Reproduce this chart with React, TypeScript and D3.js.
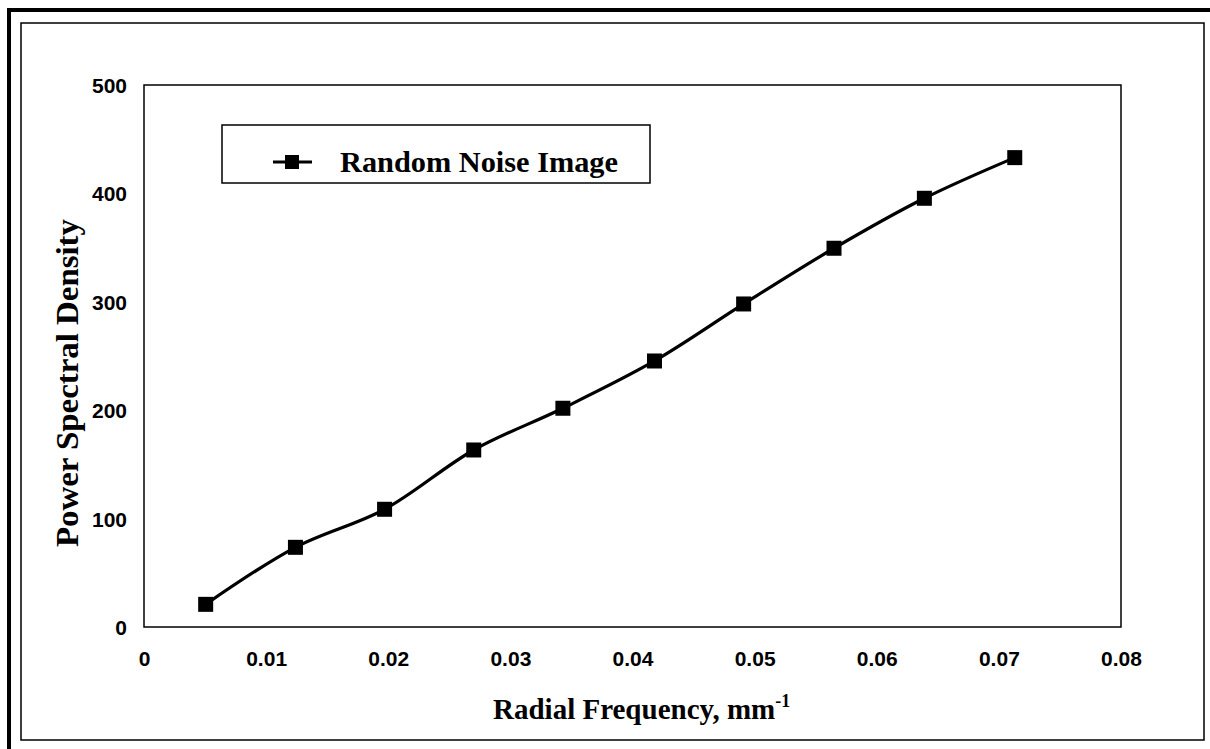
import React, { useEffect, useRef } from "react";
import * as d3 from "d3";

// Radial frequency (mm^-1) and power spectral density of the random noise image
const frequency = [0.00505, 0.0124, 0.0197, 0.027, 0.0343, 0.0418, 0.0491, 0.0565, 0.0639, 0.0713];
const psd = [20.9, 73.5, 108.6, 163.3, 201.8, 245.4, 298, 349.4, 395.5, 433];
const xTicks = [0, 0.01, 0.02, 0.03, 0.04, 0.05, 0.06, 0.07, 0.08];
const yTicks = [0, 100, 200, 300, 400, 500];
const seriesName = "Random Noise Image";

const W = 1210;
const H = 749;
const plot = { left: 144, top: 85, right: 1121, bottom: 627 };
const sans = "'Liberation Sans', Arial, Helvetica, sans-serif";
const serif = "'Liberation Serif', 'Times New Roman', Times, serif";

export default function App() {
  const ref = useRef<SVGSVGElement | null>(null);

  useEffect(() => {
    const svg = d3.select(ref.current);
    svg.selectAll("*").remove();

    const x = d3.scaleLinear().domain([0, 0.08]).range([plot.left, plot.right]);
    const y = d3.scaleLinear().domain([0, 500]).range([plot.bottom, plot.top]);

    svg.append("rect").attr("width", W).attr("height", H).attr("fill", "#fff");

    // outer heavy frame and inner thin frame
    svg.append("rect")
      .attr("x", 9).attr("y", 10).attr("width", W + 20).attr("height", H + 20)
      .attr("fill", "none").attr("stroke", "#000").attr("stroke-width", 4);
    svg.append("rect")
      .attr("x", 21).attr("y", 23).attr("width", 1204 - 21).attr("height", 740 - 23)
      .attr("fill", "none").attr("stroke", "#000").attr("stroke-width", 1.5);

    // plot area border
    svg.append("rect")
      .attr("x", plot.left).attr("y", plot.top)
      .attr("width", plot.right - plot.left).attr("height", plot.bottom - plot.top)
      .attr("fill", "none").attr("stroke", "#000").attr("stroke-width", 1.5);

    // x axis labels
    const xAxis = d3.axisBottom(x).tickValues(xTicks).tickSize(0).tickPadding(0)
      .tickFormat((d) => (d === 0 ? "0" : d3.format(".2f")(d as number)));
    const gx = svg.append("g").attr("transform", `translate(0,${plot.bottom})`).call(xAxis);
    gx.select(".domain").remove();
    gx.selectAll("text")
      .attr("y", 39).attr("dy", null)
      .attr("font-family", sans).attr("font-size", 21).attr("font-weight", "bold").attr("fill", "#000");

    // y axis labels
    const yAxis = d3.axisLeft(y).tickValues(yTicks).tickSize(0).tickPadding(0).tickFormat(d3.format("d"));
    const gy = svg.append("g").attr("transform", `translate(127,0)`).call(yAxis);
    gy.select(".domain").remove();
    gy.selectAll("text")
      .attr("x", 0).attr("dy", "0.36em")
      .attr("font-family", sans).attr("font-size", 21).attr("font-weight", "bold").attr("fill", "#000");

    // series line
    const pts: [number, number][] = frequency.map((f, i) => [f, psd[i]]);
    const line = d3.line<[number, number]>()
      .x((d) => x(d[0])).y((d) => y(d[1]))
      .curve(d3.curveCatmullRom.alpha(0.5));
    svg.append("path").datum(pts)
      .attr("d", line).attr("fill", "none").attr("stroke", "#000").attr("stroke-width", 3.2);

    const s = 15;
    svg.append("g").selectAll("rect").data(pts).join("rect")
      .attr("x", (d) => x(d[0]) - s / 2).attr("y", (d) => y(d[1]) - s / 2)
      .attr("width", s).attr("height", s).attr("fill", "#000");

    // legend
    const lg = svg.append("g");
    lg.append("rect")
      .attr("x", 222).attr("y", 125).attr("width", 650 - 222).attr("height", 183 - 125)
      .attr("fill", "#fff").attr("stroke", "#000").attr("stroke-width", 1.5);
    lg.append("line").attr("x1", 273).attr("x2", 312).attr("y1", 162).attr("y2", 162)
      .attr("stroke", "#000").attr("stroke-width", 3.2);
    lg.append("rect").attr("x", 292 - 7).attr("y", 162 - 7).attr("width", 14).attr("height", 14).attr("fill", "#000");
    lg.append("text").attr("x", 340).attr("y", 172)
      .attr("font-family", serif).attr("font-size", 30).attr("font-weight", "bold")
      .attr("textLength", 278).attr("lengthAdjust", "spacingAndGlyphs")
      .text(seriesName);

    // axis titles
    const xt = svg.append("text").attr("x", 493).attr("y", 719)
      .attr("font-family", serif).attr("font-size", 29).attr("font-weight", "bold");
    xt.append("tspan").text("Radial Frequency, mm");
    xt.append("tspan").attr("dy", -12).attr("font-size", 18).text("-1");

    svg.append("text")
      .attr("transform", `translate(78,383) rotate(-90)`)
      .attr("text-anchor", "middle")
      .attr("font-family", serif).attr("font-size", 31).attr("font-weight", "bold")
      .attr("textLength", 328).attr("lengthAdjust", "spacingAndGlyphs")
      .text("Power Spectral Density");
  }, []);

  return (
    <svg ref={ref} width={W} height={H} style={{ position: "absolute", left: 0, top: 0, display: "block" }} />
  );
}
